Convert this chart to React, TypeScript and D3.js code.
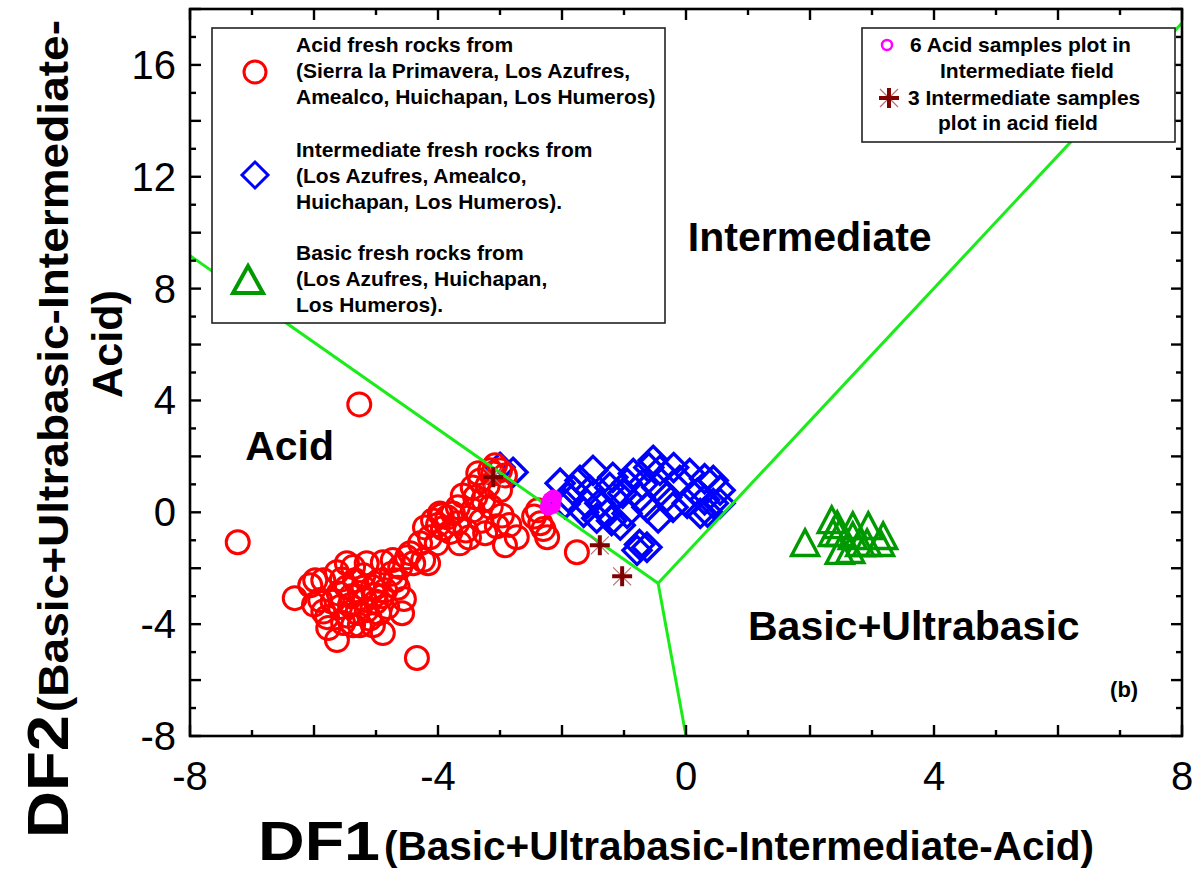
import React from 'react';
import * as d3 from 'd3';

// DF1 / DF2 discriminant diagram (b)

const xTicks = d3.range(-8, 9, 1);
const yTicks = d3.range(-8, 19, 1);
const xLabels = [-8, -4, 0, 4, 8];
const yLabels = [-8, -4, 0, 4, 8, 12, 16];

// field boundaries
const boundaryAcid = [[-8, 9.18], [-0.45, -2.54]];
const boundaryInter = [[-0.45, -2.54], [8, 17.5]];
const boundaryBasic = [[-0.45, -2.54], [0, -8]];

const acidRocks = [
  [-7.23, -1.07], [-5.27, 3.86], [-6.31, -3.07], [-5.90, -3.14], [-5.85, -2.43], [-5.63, -2.14],
  [-5.37, -1.96], [-5.15, -1.82], [-4.89, -1.79], [-4.73, -1.71], [-4.61, -1.96], [-4.58, -3.61],
  [-4.89, -4.32], [-5.63, -4.57], [-5.77, -4.14], [-5.37, -4.04], [-5.05, -4.04], [-5.26, -2.89],
  [-5.05, -2.68], [-5.47, -2.68], [-5.58, -3.39], [-4.82, -3.39], [-4.34, -5.21], [-4.40, -1.82],
  [-4.16, -1.82], [-4.45, -1.46], [-4.29, -1.11], [-4.13, -0.89], [-4.02, -1.11], [-4.21, -0.54],
  [-4.08, -0.29], [-3.97, -0.04], [-3.85, -0.18], [-3.76, -0.04], [-3.69, -0.39], [-3.65, -1.11],
  [-3.92, -0.57], [-3.68, 0.18], [-3.44, 0.07], [-3.40, 0.54], [-3.44, 0.89], [-3.32, 1.14],
  [-3.24, -0.75], [-2.97, -0.11], [-2.92, -1.18], [-2.73, -0.89], [-3.00, 0.79], [-3.11, 1.39],
  [-3.00, 1.50], [-2.39, 0.07], [-2.24, -0.89], [-2.35, -0.39], [-1.76, -1.43], [-3.27, 0.43],
  [-3.94, -0.11], [-4.24, -1.71], [-4.50, -1.61], [-5.53, -3.96], [-5.26, -4.04], [-5.18, -3.14],
  [-5.42, -3.32], [-5.02, -2.96], [-4.85, -2.79], [-6.06, -2.61], [-5.47, -1.82], [-5.34, -2.43],
  [-4.69, -2.43], [-5.15, -3.50], [-5.79, -3.75], [-5.98, -2.43], [-3.16, 1.50], [-3.08, 1.68],
  [-2.92, 1.32], [-5.6, -2.9], [-5.4, -3.0], [-5.2, -2.7], [-5.0, -3.2], [-4.9, -3.0],
  [-5.3, -3.6], [-5.1, -3.8], [-4.95, -3.6], [-5.45, -3.7], [-5.7, -3.2], [-5.55, -2.4],
  [-4.75, -2.2], [-4.65, -2.7], [-4.55, -3.1], [-5.85, -3.55], [-5.2, -2.25], [-4.95, -2.45],
  [-6.0, -3.3], [-3.6, 0.6], [-3.55, -0.65], [-3.3, -0.3], [-3.15, 0.2], [-3.05, -0.5],
  [-3.5, -0.9], [-3.8, -0.7], [-4.0, -0.45], [-3.35, 1.4], [-3.2, 0.95], [-2.85, -0.45],
  [-2.3, -0.6], [-2.45, -0.15],
];

const intermediateRocks = [
  [-2.79, 1.43], [-3.0, 1.61], [-2.03, 1.04], [-1.90, 0.54], [-1.71, 1.14], [-1.50, 1.5],
  [-1.55, 0.79], [-1.39, 0.32], [-1.18, 1.25], [-1.11, 0.68], [-1.27, -0.04], [-1.44, -0.21],
  [-1.06, -0.46], [-0.85, 1.39], [-0.74, 0.54], [-0.63, 0.18], [-0.53, 1.86], [-0.42, 1.5],
  [-0.47, 0.89], [-0.31, 0.54], [-0.10, 1.14], [0.06, 1.39], [0.18, 0.68], [0.02, 0.32],
  [0.23, -0.04], [0.44, 1.14], [0.55, 0.79], [0.55, 0.32], [-0.79, -1.36], [-0.63, -1.25],
  [-0.95, -0.04], [-0.21, 0.18], [-1.02, 0.68], [-1.82, 0.79], [-0.95, 1.04], [-1.23, 0.89],
  [0.44, 0.32], [-1.95, 0.3], [-1.6, 0.3], [-0.7, 1.0], [0.3, 0.45], [0.35, 0.0],
  [-0.45, -0.2], [-1.2, -0.3], [-1.65, 0.0], [-0.2, 1.6], [-0.6, 1.6], [0.3, 1.2],
  [-0.75, -1.15],
];

const basicRocks = [
  [1.92, -1.18], [2.44, -0.54], [2.35, -0.36], [2.48, -0.82], [2.69, -0.57], [2.69, -0.93],
  [2.48, -1.46], [2.94, -0.57], [2.92, -1.18], [3.18, -0.93], [3.13, -1.18], [2.81, -1.18],
  [2.37, -0.82], [2.65, -1.43],
];

const acidInInter = [[-2.18, 0.43], [-2.16, 0.25], [-2.2, 0.32], [-2.14, 0.5], [-2.22, 0.2], [-2.17, 0.36]];
const interInAcid = [[-3.11, 1.25], [-1.39, -1.18], [-1.03, -2.29]];

const legendAcid = ['Acid fresh rocks from', '(Sierra la Primavera, Los Azufres,', 'Amealco, Huichapan, Los Humeros)'];
const legendInter = ['Intermediate fresh rocks from', '(Los Azufres, Amealco,', 'Huichapan, Los Humeros).'];
const legendBasic = ['Basic fresh rocks from', '(Los Azufres, Huichapan,', 'Los Humeros).'];

const FONT = 'Liberation Sans, Arial, Helvetica, sans-serif';
const GREEN = '#19ec19';

const diamond = (h) => `M0,${-h}L${h},0L0,${h}L${-h},0Z`;
const triangle = (w) => {
  const hh = w * 0.95;
  return `M0,${-hh * 0.6}L${w / 2},${hh * 0.4}L${-w / 2},${hh * 0.4}Z`;
};

const Asterisk = ({cx, cy}) => (
  <g transform={`translate(${cx},${cy})`}>
    <path d="M-9,-9L9,9M-9,9L9,-9" stroke="#b87070" strokeWidth={1.2}/>
    <path d="M-10,0L10,0M0,-10L0,10" stroke="#800000" strokeWidth={4}/>
  </g>
);

export default function App() {
  const x = d3.scaleLinear().domain([-8, 8]).range([190, 1182]);
  const y = d3.scaleLinear().domain([-8, 18]).range([736, 9]);
  const line = d3.line().x((d) => x(d[0])).y((d) => y(d[1]));

  const [x0, x1] = x.range();
  const [y0, y1] = y.range();

  return (
    <svg width={1199} height={872} style={{position: 'absolute', left: 0, top: 0, background: '#fff'}}
         fontFamily={FONT}>
      <rect width={1199} height={872} fill="#fff"/>

      {/* markers */}
      <g fill="none" stroke="#0000ff" strokeWidth={3.4}>
        {intermediateRocks.map((d, i) => (
          <path key={i} d={diamond(14)} transform={`translate(${x(d[0])},${y(d[1])})`}/>
        ))}
      </g>
      <g fill="none" stroke="#ff0000" strokeWidth={3}>
        {acidRocks.map((d, i) => <circle key={i} cx={x(d[0])} cy={y(d[1])} r={11.5}/>)}
      </g>
      <g fill="none" stroke="#009900" strokeWidth={3.4}>
        {basicRocks.map((d, i) => (
          <path key={i} d={triangle(27)} transform={`translate(${x(d[0])},${y(d[1])})`}/>
        ))}
      </g>

      {/* boundaries */}
      <g fill="none" stroke={GREEN} strokeWidth={3}>
        <path d={line(boundaryAcid)}/>
        <path d={line(boundaryInter)}/>
        <path d={line(boundaryBasic)}/>
      </g>

      <g fill="none" stroke="#ff00ff" strokeWidth={3.5}>
        {acidInInter.map((d, i) => <circle key={i} cx={x(d[0])} cy={y(d[1])} r={7}/>)}
      </g>
      {interInAcid.map((d, i) => <Asterisk key={i} cx={x(d[0])} cy={y(d[1])}/>)}

      {/* frame and ticks */}
      <rect x={x0} y={y1} width={x1 - x0} height={y0 - y1} fill="none" stroke="#000" strokeWidth={2.6}/>
      <g stroke="#000" strokeWidth={2.4}>
        {xTicks.map((t) => {
          const len = t % 2 === 0 ? 11 : 6;
          return (
            <g key={'x' + t}>
              <line x1={x(t)} x2={x(t)} y1={y0} y2={y0 - len}/>
              <line x1={x(t)} x2={x(t)} y1={y1} y2={y1 + len}/>
            </g>
          );
        })}
        {yTicks.map((t) => {
          const len = t % 2 === 0 ? 11 : 6;
          return (
            <g key={'y' + t}>
              <line x1={x0} x2={x0 + len} y1={y(t)} y2={y(t)}/>
              <line x1={x1} x2={x1 - len} y1={y(t)} y2={y(t)}/>
            </g>
          );
        })}
      </g>

      <g fontSize={40} fill="#000">
        {xLabels.map((t) => (
          <text key={t} x={x(t)} y={790} textAnchor="middle">{t}</text>
        ))}
        {yLabels.map((t) => (
          <text key={t} x={176} y={y(t) + 14} textAnchor="end">{t}</text>
        ))}
      </g>

      {/* axis titles */}
      <g fontWeight="bold" fill="#000">
        <text x={258} y={860} fontSize={56} textLength={122} lengthAdjust="spacingAndGlyphs">DF1</text>
        <text x={384} y={860} fontSize={40} textLength={710} lengthAdjust="spacingAndGlyphs">(Basic+Ultrabasic-Intermediate-Acid)</text>
        <g transform="translate(68,838) rotate(-90)">
          <text x={0} y={0} fontSize={58} textLength={123} lengthAdjust="spacingAndGlyphs">DF2</text>
          <text x={126} y={0} fontSize={42} textLength={692} lengthAdjust="spacingAndGlyphs">(Basic+Ultrabasic-Intermediate-</text>
        </g>
        <text transform="translate(122,398) rotate(-90)" fontSize={42} textLength={108} lengthAdjust="spacingAndGlyphs">Acid)</text>
      </g>

      {/* field names */}
      <g fontWeight="bold" fontSize={41} fill="#000">
        <text x={x(0.03)} y={y(9.36)}>Intermediate</text>
        <text x={x(-7.11)} y={y(1.86)}>Acid</text>
        <text x={x(1.0)} y={y(-4.57)}>Basic+Ultrabasic</text>
      </g>
      <text x={x(6.84)} y={y(-6.6)} fontWeight="bold" fontSize={22}>(b)</text>

      {/* legend 1 */}
      <rect x={212} y={28} width={453} height={295} fill="#fff" stroke="#222" strokeWidth={1.6}/>
      <circle cx={255} cy={72} r={11} fill="none" stroke="#ff0000" strokeWidth={3}/>
      <path d={diamond(13)} transform="translate(255,175)" fill="none" stroke="#0000ff" strokeWidth={3}/>
      <path d="M248,266L263,293L233,293Z" fill="none" stroke="#009900" strokeWidth={4}/>
      <g fontWeight="bold" fontSize={21} fill="#000">
        {legendAcid.map((s, i) => <text key={'a' + i} x={296} y={52 + i * 26}>{s}</text>)}
        {legendInter.map((s, i) => <text key={'i' + i} x={296} y={157 + i * 26}>{s}</text>)}
        {legendBasic.map((s, i) => <text key={'b' + i} x={296} y={260 + i * 26}>{s}</text>)}
      </g>

      {/* legend 2 */}
      <rect x={862} y={28} width={313} height={114} fill="#fff" stroke="#222" strokeWidth={1.6}/>
      <circle cx={887} cy={45} r={5} fill="none" stroke="#ff00ff" strokeWidth={2.5}/>
      <Asterisk cx={889} cy={98}/>
      <g fontWeight="bold" fontSize={21} fill="#000">
        <text x={910} y={52}>6 Acid samples plot in</text>
        <text x={940} y={78}>Intermediate field</text>
        <text x={908} y={105}>3 Intermediate samples</text>
        <text x={938} y={130}>plot in acid field</text>
      </g>
    </svg>
  );
}
